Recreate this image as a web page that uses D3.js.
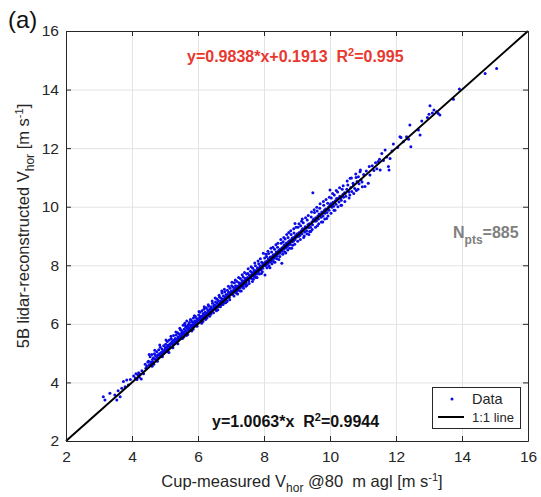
<!DOCTYPE html>
<html>
<head>
<meta charset="utf-8">
<title>lidar vs cup</title>
<style>
body { margin: 0; background: #fff; }
text { font-family: "Liberation Sans", Arial, sans-serif; }
</style>
</head>
<body>
<div id="chart"></div>
<script src="https://cdn.jsdelivr.net/npm/d3@7/dist/d3.min.js"></script>
<script>

// cup-measured vs lidar-reconstructed wind speed
var points = [
[3.13,3.51],[3.18,3.40],[3.33,3.63],[3.48,3.57],[3.54,3.40],[3.64,3.51],[3.69,3.80],[3.74,4.03],[3.84,4.08],[3.89,3.91],[3.79,3.85],[3.58,3.72],[3.95,4.10],
[4.05,4.22],[4.10,4.15],[4.12,4.30],[4.15,4.10],[4.18,4.25],[4.20,4.33],[4.22,4.18],[4.25,4.28],[4.28,4.12],[4.30,4.40],[4.35,4.30],[4.40,4.62],[4.45,4.55],[4.48,4.70],[4.42,4.48],
[4.50,4.72],[4.52,4.60],[4.55,4.88],[4.57,4.70],[4.58,4.65],[4.60,4.95],[4.62,4.78],[4.63,4.70],[4.65,4.84],[4.66,4.62],[4.68,4.98],[4.70,4.80],[4.71,4.92],[4.73,4.75],[4.75,5.05],[4.76,4.86],[4.78,4.94],[4.80,4.83],[4.81,5.12],[4.83,4.98],[4.85,4.90],[4.86,5.20],[4.88,5.02],[4.90,4.95],[4.91,5.14],[4.93,5.06],[4.95,5.00],[4.96,5.25],[4.98,5.10],[4.99,5.05],
[5.01,5.18],[5.02,5.30],[5.04,5.12],[5.05,5.22],[5.07,5.40],[5.08,5.15],[5.10,5.28],[5.11,5.20],[5.13,5.45],[5.14,5.25],[5.16,5.32],[5.17,5.22],[5.19,5.50],[5.20,5.36],[5.22,5.30],[5.23,5.42],[5.25,5.33],[5.26,5.60],[5.28,5.45],[5.29,5.36],[5.31,5.50],[5.32,5.40],[5.34,5.62],[5.35,5.48],[5.37,5.42],[5.38,5.70],[5.40,5.55],[5.41,5.48],[5.43,5.65],[5.44,5.52],[5.46,5.58],[5.47,5.80],[5.48,5.55],[5.50,5.68],[5.12,5.02],
[5.51,5.62],[5.52,5.75],[5.54,5.66],[5.55,5.95],[5.56,5.70],[5.58,5.82],[5.59,5.65],[5.60,6.02],[5.62,5.76],[5.63,5.88],[5.64,5.72],[5.66,6.10],[5.67,5.84],[5.68,5.92],[5.70,5.78],[5.71,5.98],[5.72,5.86],[5.74,6.05],[5.75,5.82],[5.76,5.95],[5.78,5.88],[5.79,6.12],[5.80,5.96],[5.82,5.90],[5.83,6.06],[5.84,5.95],[5.86,6.20],[5.87,6.02],[5.88,5.94],[5.90,6.10],[5.91,6.00],[5.92,6.25],[5.94,6.08],[5.95,6.02],[5.96,6.18],[5.98,6.05],[5.99,6.12],[5.65,5.60],[5.85,5.82],[5.57,5.55],
[6.01,6.15],[6.02,6.30],[6.04,6.12],[6.05,6.22],[6.06,6.40],[6.08,6.18],[6.09,6.26],[6.10,6.14],[6.12,6.45],[6.13,6.28],[6.14,6.20],[6.16,6.35],[6.17,6.24],[6.18,6.50],[6.20,6.30],[6.21,6.22],[6.22,6.40],[6.24,6.32],[6.25,6.55],[6.26,6.36],[6.28,6.30],[6.29,6.48],[6.30,6.38],[6.32,6.42],[6.33,6.60],[6.34,6.40],[6.36,6.50],[6.37,6.44],[6.38,6.38],[6.40,6.58],[6.41,6.50],[6.42,6.45],[6.44,6.70],[6.45,6.52],[6.46,6.48],[6.48,6.62],[6.49,6.55],[6.15,6.08],[6.27,6.20],[6.39,6.33],
[6.50,6.64],[6.51,6.55],[6.53,6.75],[6.54,6.62],[6.55,6.50],[6.57,6.85],[6.58,6.70],[6.59,6.62],[6.61,6.80],[6.62,6.68],[6.63,6.58],[6.65,6.92],[6.66,6.76],[6.67,6.70],[6.69,6.88],[6.70,6.78],[6.71,6.65],[6.73,7.05],[6.74,6.85],[6.75,6.80],[6.77,6.95],[6.78,6.84],[6.79,6.72],[6.81,7.10],[6.82,6.92],[6.83,6.88],[6.85,7.00],[6.86,6.90],[6.87,6.80],[6.89,7.15],[6.90,7.00],[6.91,6.95],[6.93,7.08],[6.94,6.98],[6.95,6.90],[6.97,7.22],[6.98,7.06],[6.99,7.02],[6.60,6.48],[6.84,6.72],
[7.01,7.12],[7.02,7.30],[7.04,7.10],[7.05,7.00],[7.07,7.25],[7.08,7.16],[7.10,7.40],[7.11,7.18],[7.12,7.08],[7.14,7.30],[7.15,7.22],[7.17,7.12],[7.18,7.45],[7.19,7.28],[7.21,7.24],[7.22,7.16],[7.24,7.40],[7.25,7.32],[7.26,7.22],[7.28,7.55],[7.29,7.38],[7.30,7.34],[7.32,7.26],[7.33,7.48],[7.35,7.40],[7.36,7.30],[7.37,7.60],[7.39,7.46],[7.40,7.42],[7.42,7.35],[7.43,7.55],[7.44,7.50],[7.46,7.40],[7.47,7.70],[7.49,7.56],[7.20,7.02],[7.31,7.12],[7.45,7.28],
[7.50,7.58],[7.51,7.72],[7.53,7.55],[7.54,7.46],[7.56,7.66],[7.57,7.60],[7.59,7.80],[7.60,7.64],[7.62,7.55],[7.63,7.75],[7.64,7.68],[7.66,7.90],[7.67,7.72],[7.69,7.62],[7.70,7.82],[7.71,7.76],[7.73,7.68],[7.74,7.98],[7.76,7.82],[7.77,7.78],[7.78,7.70],[7.80,7.92],[7.81,7.86],[7.83,7.78],[7.84,8.05],[7.85,7.90],[7.87,7.84],[7.88,7.98],[7.90,7.92],[7.91,7.85],[7.93,8.10],[7.94,7.98],[7.96,7.90],[7.97,8.06],[7.99,8.02],[7.65,7.45],[7.79,7.58],[7.92,7.72],[7.98,8.41],
[8.01,8.08],[8.02,8.25],[8.03,7.67],[8.04,7.98],[8.05,8.12],[8.07,8.02],[8.08,8.30],[8.10,8.15],[8.11,8.06],[8.13,8.22],[8.14,8.40],[8.16,8.18],[8.17,8.10],[8.19,8.28],[8.20,8.22],[8.22,8.14],[8.23,8.45],[8.25,8.30],[8.26,8.20],[8.28,8.36],[8.29,8.32],[8.31,8.24],[8.32,8.55],[8.34,8.38],[8.35,8.30],[8.37,8.45],[8.38,8.40],[8.40,8.32],[8.41,8.62],[8.43,8.48],[8.44,8.40],[8.46,8.52],[8.47,8.50],[8.49,8.42],[8.18,7.92],[8.33,8.10],[8.45,8.20],
[8.50,8.56],[8.52,8.75],[8.53,8.50],[8.54,8.07],[8.55,8.60],[8.56,8.48],[8.58,8.80],[8.59,8.64],[8.61,8.56],[8.62,8.70],[8.64,8.90],[8.65,8.68],[8.67,8.60],[8.68,8.76],[8.70,8.72],[8.71,8.64],[8.73,8.95],[8.74,8.80],[8.76,8.70],[8.77,8.84],[8.79,8.80],[8.80,8.72],[8.82,9.05],[8.83,8.88],[8.85,8.80],[8.86,8.94],[8.88,8.90],[8.89,8.82],[8.91,9.10],[8.92,8.96],[8.94,9.43],[8.94,8.88],[8.96,9.02],[8.98,8.96],[8.66,8.42],[8.84,8.58],
[9.01,9.08],[9.03,9.30],[9.05,8.98],[9.07,9.12],[9.09,9.02],[9.11,9.35],[9.13,9.18],[9.15,9.08],[9.17,9.25],[9.19,9.45],[9.21,9.24],[9.23,9.14],[9.25,9.32],[9.27,9.28],[9.29,9.18],[9.31,9.55],[9.33,9.38],[9.35,9.28],[9.37,9.42],[9.39,9.40],[9.41,9.30],[9.43,9.65],[9.45,9.48],[9.47,9.38],[9.49,9.55],[9.20,8.95],[9.36,9.05],[9.48,10.48],[9.14,9.50],[9.42,9.15],
[9.51,9.58],[9.53,9.80],[9.55,9.50],[9.57,9.62],[9.59,9.52],[9.61,9.85],[9.63,9.68],[9.65,9.58],[9.67,9.75],[9.69,9.95],[9.71,9.74],[9.73,9.64],[9.75,9.82],[9.77,9.78],[9.79,9.68],[9.81,10.05],[9.83,9.88],[9.85,9.78],[9.87,9.92],[9.89,9.90],[9.91,9.80],[9.93,10.12],[9.95,9.98],[9.97,9.88],[9.99,10.04],[9.62,9.35],[9.78,9.48],[9.90,9.60],
[10.02,10.10],[10.04,10.30],[10.06,9.98],[10.09,10.15],[10.11,10.02],[10.13,10.40],[10.16,10.20],[10.18,10.08],[10.20,10.28],[10.23,10.50],[10.25,10.28],[10.27,10.16],[10.30,10.36],[10.32,10.30],[10.34,10.22],[10.37,10.60],[10.39,10.42],[10.41,10.32],[10.44,10.48],[10.46,10.46],[10.48,10.36],[10.15,9.88],[10.35,10.05],[10.00,10.57],
[10.51,10.60],[10.54,10.74],[10.57,10.50],[10.61,10.97],[10.63,10.66],[10.66,10.52],[10.70,10.80],[10.71,10.74],[10.75,10.62],[10.79,11.00],[10.82,10.86],[10.86,11.02],[10.88,10.78],[10.91,11.19],[10.94,10.92],[10.97,10.84],[10.60,10.40],[10.80,10.55],
[11.02,11.10],[11.06,10.69],[11.10,11.22],[11.16,10.80],[11.19,11.37],[11.21,11.08],[11.28,11.40],[11.33,11.24],[11.38,11.50],[11.42,11.30],[11.46,11.54],[11.50,11.62],
[11.52,11.25],[11.57,11.82],[11.62,11.58],[11.67,11.94],[11.72,11.70],[11.77,11.37],[11.79,11.25],[11.82,11.65],[11.88,11.90],[11.92,12.14],
[12.05,12.02],[12.12,12.39],[12.15,12.36],[12.22,12.22],[12.32,12.39],[12.42,12.79],[12.45,12.05],[12.38,12.30],
[12.68,12.62],[12.73,12.45],[12.78,12.93],[12.95,13.05],[13.00,13.16],[13.03,13.45],[13.10,13.20],[13.15,13.30],[13.23,13.24],[13.28,13.18],[13.33,13.13],[13.74,13.67],[13.92,14.02],[14.70,14.55],[15.05,14.72],
[4.52,4.95],[4.61,4.55],[4.69,5.10],[4.77,4.72],[4.84,5.28],[4.92,4.88],[5.03,5.45],[5.09,5.05],[5.18,5.58],[5.24,5.18],[5.33,5.72],[5.39,5.32],[5.45,5.85],
[5.53,5.50],[5.61,5.95],[5.69,5.64],[5.77,6.15],[5.81,5.76],[5.89,6.28],[5.97,5.92],[6.03,6.42],[6.11,6.02],[6.19,6.58],[6.23,6.15],[6.31,6.65],[6.35,6.26],[6.43,6.78],[6.47,6.38],
[6.52,6.88],[6.56,6.45],[6.64,6.98],[6.68,6.58],[6.72,7.12],[6.76,6.66],[6.80,7.18],[6.88,6.76],[6.92,7.28],[6.96,6.82],[7.03,7.42],[7.09,6.95],[7.13,7.50],[7.16,7.05],[7.23,7.58],[7.27,7.12],[7.34,7.68],[7.38,7.22],[7.41,7.75],[7.48,7.32],
[7.52,7.88],[7.55,7.38],[7.61,7.95],[7.68,7.52],[7.72,8.08],[7.75,7.58],[7.82,8.15],[7.86,7.70],[7.89,8.22],[7.95,7.78],[8.06,8.38],[8.09,7.92],[8.12,8.48],[8.15,7.98],[8.21,8.58],[8.24,8.05],[8.27,8.62],[8.30,8.12],[8.36,8.70],[8.39,8.22],[8.42,8.75],[8.48,8.30],
[8.51,8.88],[8.57,8.38],[8.60,8.95],[8.63,8.45],[8.69,9.05],[8.72,8.52],[8.75,9.12],[8.78,8.58],[8.81,9.18],[8.87,8.68],[8.90,9.25],[8.93,8.72],[8.97,9.30],[9.02,8.82],[9.06,9.42],[9.10,8.88],[9.16,9.58],[9.22,9.00],[9.26,9.62],[9.30,9.08],[9.34,9.70],[9.38,9.15],[9.44,9.82],[9.46,9.22],
[9.52,9.90],[9.56,9.30],[9.60,9.98],[9.66,9.42],[9.70,10.10],[9.74,9.48],[9.80,10.18],[9.84,9.58],[9.88,10.25],[9.94,9.68],[9.98,10.32],[10.03,9.78],[10.08,10.45],[10.12,9.88],[10.19,10.55],[10.24,10.00],[10.29,10.65],[10.33,10.05],[10.40,10.72],[10.45,10.18],[10.52,10.88],[10.58,10.30],[10.65,10.98],[10.72,10.45],[10.78,11.12],[10.85,10.60],[10.92,11.25],[10.98,10.68]
];

var xTicks = [2, 4, 6, 8, 10, 12, 14, 16];
var yTicks = [2, 4, 6, 8, 10, 12, 14, 16];
var oneToOne = [2, 16];
var legendLabels = ['Data', '1:1 line'];

var width = 541;
var height = 497;
var plotLeft = 66, plotRight = 528, plotTop = 31, plotBottom = 441;

var svg = d3.select('#chart')
	.append('svg')
	.attr('width', width)
	.attr('height', height);

var x = d3.scaleLinear().domain([2, 16]).range([plotLeft, plotRight]);
var y = d3.scaleLinear().domain([2, 16]).range([plotBottom, plotTop]);

// grid
svg.append('g')
	.attr('transform', 'translate(0,' + plotBottom + ')')
	.call(d3.axisBottom(x).tickValues(xTicks).tickSize(-(plotBottom - plotTop)).tickFormat(''))
	.call(function(g){ g.select('.domain').remove(); })
	.selectAll('line').attr('stroke', '#e3e3e3');

svg.append('g')
	.attr('transform', 'translate(' + plotLeft + ',0)')
	.call(d3.axisLeft(y).tickValues(yTicks).tickSize(-(plotRight - plotLeft)).tickFormat(''))
	.call(function(g){ g.select('.domain').remove(); })
	.selectAll('line').attr('stroke', '#e3e3e3');

// points
svg.append('g')
	.selectAll('circle')
	.data(points)
	.enter()
	.append('circle')
	.attr('cx', function(d){ return x(d[0]); })
	.attr('cy', function(d){ return y(d[1]); })
	.attr('r', 1.5)
	.attr('fill', '#0a0ae6');

// 1:1 line
svg.append('line')
	.attr('x1', x(oneToOne[0]))
	.attr('y1', y(oneToOne[0]))
	.attr('x2', x(oneToOne[1]))
	.attr('y2', y(oneToOne[1]))
	.attr('stroke', '#000')
	.attr('stroke-width', 2);

// axes with ticks inside
var axColor = '#262626';

var xAxis = svg.append('g')
	.attr('transform', 'translate(0,' + plotBottom + ')')
	.call(d3.axisBottom(x).tickValues(xTicks).tickSizeInner(-5).tickSizeOuter(0).tickPadding(10));

var yAxis = svg.append('g')
	.attr('transform', 'translate(' + plotLeft + ',0)')
	.call(d3.axisLeft(y).tickValues(yTicks).tickSizeInner(-5).tickSizeOuter(0).tickPadding(7));

var xTop = svg.append('g')
	.attr('transform', 'translate(0,' + plotTop + ')')
	.call(d3.axisTop(x).tickValues(xTicks).tickSizeInner(-5).tickSizeOuter(0).tickFormat(''));

var yRight = svg.append('g')
	.attr('transform', 'translate(' + plotRight + ',0)')
	.call(d3.axisRight(y).tickValues(yTicks).tickSizeInner(-5).tickSizeOuter(0).tickFormat(''));

[xAxis, yAxis, xTop, yRight].forEach(function(g){
	g.select('.domain').attr('stroke', axColor);
	g.selectAll('.tick line').attr('stroke', axColor);
	g.selectAll('.tick text')
		.attr('fill', axColor)
		.attr('font-size', 15.5)
		.attr('font-family', '"Liberation Sans", Arial, sans-serif');
});

// axis titles
var xTitle = svg.append('text')
	.attr('x', 302)
	.attr('y', 487)
	.attr('text-anchor', 'middle')
	.attr('font-size', 16.5)
	.attr('fill', axColor)
	.style('white-space', 'pre');
xTitle.append('tspan').text('Cup-measured V');
xTitle.append('tspan').attr('font-size', 12).attr('dy', 5).text('hor');
xTitle.append('tspan').attr('dy', -5).text(' @80  m agl [m s');
xTitle.append('tspan').attr('font-size', 11).attr('dy', -6).text('-1');
xTitle.append('tspan').attr('dy', 6).text(']');

var yTitle = svg.append('text')
	.attr('transform', 'translate(29,' + 226 + ') rotate(-90)')
	.attr('text-anchor', 'middle')
	.attr('font-size', 16.5)
	.attr('fill', axColor);
yTitle.append('tspan').text('5B lidar-reconstructed V');
yTitle.append('tspan').attr('font-size', 12).attr('dy', 5).text('hor');
yTitle.append('tspan').attr('dy', -5).text(' [m s');
yTitle.append('tspan').attr('font-size', 11).attr('dy', -6).text('-1');
yTitle.append('tspan').attr('dy', 6).text(']');

// panel letter
svg.append('text')
	.attr('x', 8)
	.attr('y', 28)
	.attr('font-size', 24)
	.attr('font-family', '"Open Sans", sans-serif')
	.attr('fill', '#111')
	.text('(a)');

// regression text (red)
var red = svg.append('text')
	.attr('x', 187)
	.attr('y', 62)
	.attr('font-size', 16)
	.attr('font-weight', 'bold')
	.attr('fill', '#e8382f')
	.style('white-space', 'pre');
red.append('tspan').text('y=0.9838*x+0.1913  R');
red.append('tspan').attr('font-size', 11).attr('dy', -6).text('2');
red.append('tspan').attr('dy', 6).text('=0.995');

// forced-through-origin text (black)
var blk = svg.append('text')
	.attr('x', 212)
	.attr('y', 427)
	.attr('font-size', 16)
	.attr('font-weight', 'bold')
	.attr('fill', '#111')
	.style('white-space', 'pre');
blk.append('tspan').text('y=1.0063*x  R');
blk.append('tspan').attr('font-size', 11).attr('dy', -6).text('2');
blk.append('tspan').attr('dy', 6).text('=0.9944');

// number of points
var np = svg.append('text')
	.attr('x', 453)
	.attr('y', 238)
	.attr('font-size', 16)
	.attr('font-weight', 'bold')
	.attr('fill', '#808080');
np.append('tspan').text('N');
np.append('tspan').attr('font-size', 12).attr('dy', 6).text('pts');
np.append('tspan').attr('dy', -6).text('=885');

// legend
var lg = svg.append('g');
lg.append('rect')
	.attr('x', 432.5)
	.attr('y', 387.5)
	.attr('width', 88)
	.attr('height', 41)
	.attr('fill', '#fff')
	.attr('stroke', axColor)
	.attr('stroke-width', 1);
lg.append('circle')
	.attr('cx', 452)
	.attr('cy', 399)
	.attr('r', 1.5)
	.attr('fill', '#0a0ae6');
lg.append('line')
	.attr('x1', 438)
	.attr('x2', 464)
	.attr('y1', 417)
	.attr('y2', 417)
	.attr('stroke', '#000')
	.attr('stroke-width', 2);
lg.selectAll('.lgText')
	.data(legendLabels)
	.enter()
	.append('text')
	.attr('x', 472)
	.attr('y', function(d, i){ return 404 + i * 18; })
	.attr('font-size', function(d, i){ return i === 0 ? 14.5 : 13; })
	.attr('fill', axColor)
	.text(function(d){ return d; });

</script>
</body>
</html>
